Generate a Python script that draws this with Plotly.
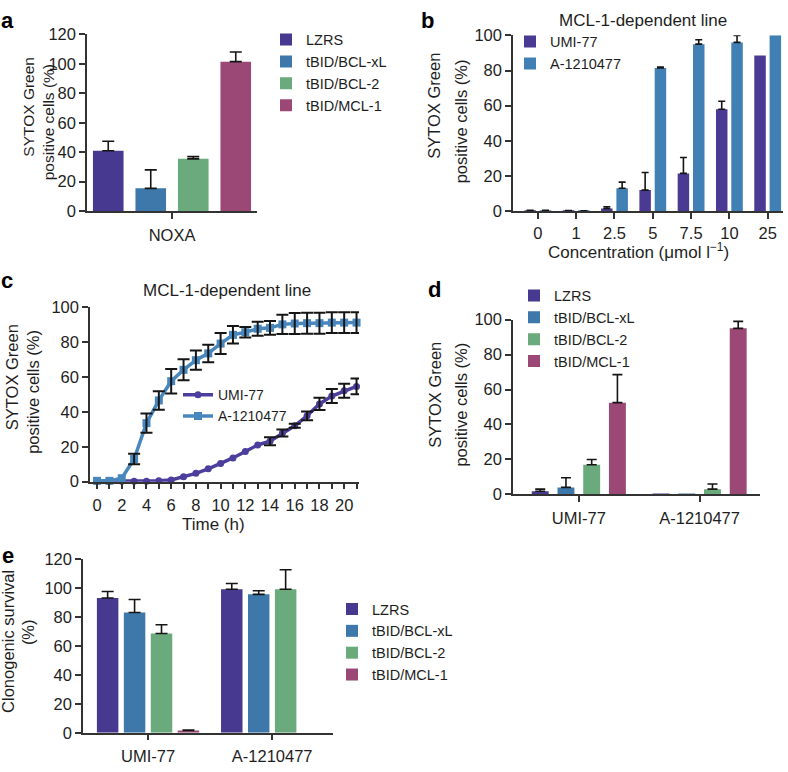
import plotly.graph_objects as go

W, H = 788, 772

# ---------------- data ----------------
conditions = ["LZRS", "tBID/BCL-xL", "tBID/BCL-2", "tBID/MCL-1"]
cond_colors = ["#47398F", "#3E78AA", "#6AAA7D", "#9C4876"]

# panel a
a_category = ["NOXA"]
a_values = [41, 15.5, 35.5, 101.5]
a_errors = [6.5, 12.5, 1.5, 6.5]

# panel b
b_conc = ["0", "1", "2.5", "5", "7.5", "10", "25"]
b_umi = [0.3, 0.2, 1.5, 12, 21.5, 58, 88.5]
b_umi_err = [0.2, 0.1, 1.0, 10, 9, 4.5, None]
b_a = [0.4, 0.1, 13, 81.5, 95, 96, 100]
b_a_err = [0.1, 0.1, 3.5, 0.5, 2.5, 4, None]

# panel c
c_time = list(range(22))
c_umi = [0.2, 0.2, 0.2, 0.2, 0.2, 0.5, 1, 2.8, 4.8, 7.4, 10.4, 13.6, 17.3, 21,
         23.2, 27.9, 32, 37.7, 44.5, 49, 52, 54.5]
c_umi_err = [None] * 14 + [2.3, 2, 1.2, 2.5, 3.5, 4, 4, 4.5]
c_a = [0.5, 0.5, 2, 13, 33.5, 46.5, 57.5, 64, 69.5, 73.4, 79, 84, 85.5, 87.5,
       88, 90, 90.5, 90.7, 90.7, 91, 91, 91]
c_a_err = [None, None, None, 3, 5.5, 5.3, 7, 6, 5.5, 5, 6, 5, 3, 4,
           4, 5.5, 6, 6, 6, 6, 6, 6]

# panel d
d_lines = ["UMI-77", "A-1210477"]
d_values = {
    "LZRS": [1.8, 0.3],
    "tBID/BCL-xL": [4, 0.3],
    "tBID/BCL-2": [17, 3],
    "tBID/MCL-1": [52.5, 95],
}
d_errors = {
    "LZRS": [1.2, None],
    "tBID/BCL-xL": [5.5, None],
    "tBID/BCL-2": [3, 3],
    "tBID/MCL-1": [16, 4],
}

# panel e
e_lines = ["UMI-77", "A-1210477"]
e_values = {
    "LZRS": [93, 99],
    "tBID/BCL-xL": [83, 95.5],
    "tBID/BCL-2": [68.5, 99],
    "tBID/MCL-1": [1.5, None],
}
e_errors = {
    "LZRS": [4.5, 4],
    "tBID/BCL-xL": [9, 2.5],
    "tBID/BCL-2": [6, 13.5],
    "tBID/MCL-1": [0.4, None],
}

# ---------------- helpers ----------------
FONT = "Liberation Sans, Arial, Helvetica, sans-serif"
TXT = "#1e1e1e"
AX = "#333333"
ERR = "#151515"
TICK = 16.5
TITLE = 16.5
LEG = 14.5


def xd(p0, p1):
    return [p0 / W, p1 / W]


def yd(top, bottom):
    return [1 - bottom / H, 1 - top / H]


def px(x):
    return x / W


def py(y):
    return 1 - y / H


fig = go.Figure()


def add_bar(name, x, y, err, color, xa, ya, center, width, errw, legend=None, group=None):
    fig.add_trace(go.Bar(
        x=x, y=y, name=name, marker=dict(color=color, line=dict(width=0)),
        offset=center - width / 2, width=width, xaxis=xa, yaxis=ya,
        showlegend=legend is not None, legend=legend or "legend",
        legendgroup=group, hoverinfo="skip"))
    ey = [v if (e is not None and v is not None) else None for v, e in zip(y, err)]
    ee = [e if e is not None else 0 for e in err]
    fig.add_trace(go.Bar(
        x=x, y=ey, marker=dict(color="rgba(0,0,0,0)", line=dict(width=0)),
        offset=center - width / 2, width=width, xaxis=xa, yaxis=ya,
        showlegend=False, hoverinfo="skip",
        error_y=dict(type="data", symmetric=False, array=ee,
                     arrayminus=[0] * len(ee), color=ERR, thickness=1.6, width=errw)))


# ---- panel a ----
a_pitch, a_w = 0.25, 0.18
for i, (c, col) in enumerate(zip(conditions, cond_colors)):
    add_bar(c, a_category, [a_values[i]], [a_errors[i]], col, "x", "y",
            (i - 1.5) * a_pitch, a_w, 6, legend="legend", group="a" + str(i))

# ---- panel b ----
b_pitch, b_w = 0.4, 0.3
add_bar("UMI-77", b_conc, b_umi, b_umi_err, "#4A3A94", "x2", "y2", -b_pitch / 2, b_w, 3.5,
        legend="legend2", group="b0")
add_bar("A-1210477", b_conc, b_a, b_a_err, "#4080B5", "x2", "y2", b_pitch / 2, b_w, 3.5,
        legend="legend2", group="b1")

# ---- panel c ----
fig.add_trace(go.Scatter(
    x=c_time, y=c_umi, name="UMI-77", mode="lines+markers",
    line=dict(color="#4C3E9C", width=3.5),
    marker=dict(symbol="circle", size=7, color="#4C3E9C"),
    xaxis="x3", yaxis="y3", cliponaxis=False, legend="legend3", legendgroup="c0"))
fig.add_trace(go.Scatter(
    x=c_time, y=c_a, name="A-1210477", mode="lines+markers",
    line=dict(color="#4887BD", width=3.5),
    marker=dict(symbol="square", size=8, color="#4887BD"),
    xaxis="x3", yaxis="y3", cliponaxis=False, legend="legend3", legendgroup="c1"))
for ys, es in ((c_umi, c_umi_err), (c_a, c_a_err)):
    xs = [t for t, e in zip(c_time, es) if e is not None]
    yv = [v for v, e in zip(ys, es) if e is not None]
    ev = [e for e in es if e is not None]
    fig.add_trace(go.Scatter(
        x=xs, y=yv, mode="markers", marker=dict(size=1, opacity=0),
        error_y=dict(type="data", array=ev, color=ERR, thickness=2, width=6),
        xaxis="x3", yaxis="y3", showlegend=False, hoverinfo="skip", cliponaxis=False))

# ---- panel d ----
d_pitch, d_w = 0.213, 0.14
for i, (c, col) in enumerate(zip(conditions, cond_colors)):
    add_bar(c, d_lines, d_values[c], d_errors[c], col, "x4", "y4",
            (i - 1.5) * d_pitch, d_w, 5, legend="legend4", group="d" + str(i))

# ---- panel e ----
e_pitch, e_w = 0.217, 0.173
for i, (c, col) in enumerate(zip(conditions, cond_colors)):
    add_bar(c, e_lines, e_values[c], e_errors[c], col, "x5", "y5",
            (i - 1.5) * e_pitch, e_w, 6, legend="legend5", group="e" + str(i))

# ---------------- axes ----------------
axis_common = dict(showline=True, linecolor=AX, linewidth=1.5, ticks="outside",
                   ticklen=6, tickwidth=1.5, tickcolor=AX, showgrid=False,
                   zeroline=False, tickfont=dict(family=FONT, size=TICK, color=TXT),
                   fixedrange=True)

layout = dict(
    width=W, height=H, margin=dict(l=0, r=0, t=0, b=0),
    paper_bgcolor="white", plot_bgcolor="white", barmode="overlay",
    font=dict(family=FONT, size=14, color=TXT),
    # a
    xaxis=dict(domain=xd(87, 257), anchor="y", type="category", range=[-0.5, 0.5],
               ticklabelstandoff=2, **axis_common),
    yaxis=dict(domain=yd(26, 207), anchor="x", range=[0, 120], dtick=20, **axis_common),
    # b
    xaxis2=dict(domain=xd(513, 783), anchor="y2", type="category", range=[-0.65, 6.4],
                ticklabelstandoff=0, **axis_common),
    yaxis2=dict(domain=yd(27, 207), anchor="x2", range=[0, 100], dtick=20, **axis_common),
    # c
    xaxis3=dict(domain=xd(90, 359), anchor="y3", range=[-0.57, 21.2], tick0=0, dtick=2,
                minor=dict(ticks="outside", dtick=1, ticklen=6, tickwidth=1.5, tickcolor=AX),
                ticklabelstandoff=2, **axis_common),
    yaxis3=dict(domain=yd(305, 484), anchor="x3", range=[0, 100], dtick=20, **axis_common),
    # d
    xaxis4=dict(domain=xd(513, 760), anchor="y4", type="category", range=[-0.545, 1.5],
                ticklabelstandoff=2, **axis_common),
    yaxis4=dict(domain=yd(318, 497), anchor="x4", range=[0, 100], dtick=20, **axis_common),
    # e
    xaxis5=dict(domain=xd(83, 333), anchor="y5", type="category", range=[-0.524, 1.49],
                ticklabelstandoff=2, **axis_common),
    yaxis5=dict(domain=yd(563, 741), anchor="x5", range=[0, 120], dtick=20, **axis_common),
)

leg_common = dict(xref="paper", yref="paper", xanchor="left", yanchor="top",
                  bgcolor="rgba(0,0,0,0)", borderwidth=0,
                  itemclick=False, itemdoubleclick=False)
legfont = dict(family=FONT, size=LEG, color=TXT)
layout["legend"] = dict(x=px(266), y=py(15), tracegroupgap=0, font=legfont, **leg_common)
layout["legend2"] = dict(x=px(510), y=py(17), tracegroupgap=0, font=legfont, **leg_common)
layout["legend3"] = dict(x=px(178), y=py(379), tracegroupgap=0,
                         font=dict(family=FONT, size=14, color=TXT), **leg_common)
layout["legend4"] = dict(x=px(514), y=py(277), tracegroupgap=0, font=legfont, **leg_common)
layout["legend5"] = dict(x=px(332), y=py(598), tracegroupgap=0, font=legfont, **leg_common)

fig.update_layout(**layout)

# ---------------- text annotations ----------------
ann = []


def text(x, y, s, size=TITLE, angle=0, bold=False):
    ann.append(dict(x=px(x), y=py(y), xref="paper", yref="paper", text=s,
                    showarrow=False, textangle=angle, xanchor="center", yanchor="middle",
                    font=dict(family=FONT, size=size, color="#000" if bold else TXT)))


# panel letters
for (lx, ly, s) in [(7, 12, "a"), (427, 12, "b"), (7, 278, "c"), (434, 287, "d"), (8, 560, "e")]:
    text(lx, ly, "<b>" + s + "</b>", size=22, bold=True)

# y titles
text(29, 100, "SYTOX Green", size=15.5, angle=-90)
text(48, 116, "positive cells (%)", size=15.5, angle=-90)
text(434, 99, "SYTOX Green", angle=-90)
text(461, 115, "positive cells (%)", angle=-90)
text(12, 377, "SYTOX Green", angle=-90)
text(33, 392, "positive cells (%)", angle=-90)
text(435, 395, "SYTOX Green", angle=-90)
text(461, 405, "positive cells (%)", angle=-90)
text(8, 648, "Clonogenic survival", angle=-90)
text(28, 638, "(%)", angle=-90)

# titles
text(643, 12, "MCL-1-dependent line", size=17)
text(227, 288, "MCL-1-dependent line", size=17)
# x titles
text(638, 248, "Concentration (μmol l<sup>−1</sup>)", size=17)
text(213, 528, "Time (h)", size=17)

fig.update_layout(annotations=ann)

fig.write_html(
    "out.html",
    config={"displayModeBar": False},
    post_script="document.body.style.margin='0';document.body.style.padding='0';"
                "document.documentElement.style.overflow='hidden';",
)
